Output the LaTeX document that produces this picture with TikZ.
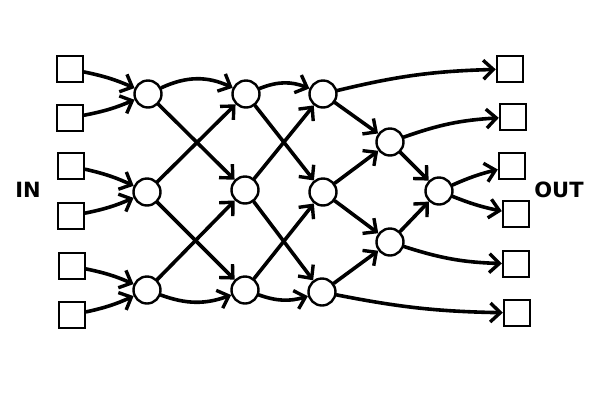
\documentclass[tikz,border=0pt]{standalone}
\usepackage{fontspec}
\setmainfont{Fira Sans}
\newfontfamily\lblfont{DejaVu Sans}
\usetikzlibrary{arrows.meta}
\tikzset{
  box/.style={draw, line width=2.4pt, minimum size=26pt, inner sep=0pt},
  nd/.style={draw, circle, line width=2.4pt, minimum size=27pt, inner sep=0pt},
  conn/.style={line width=3.6pt, line cap=round, -{Straight Barb[length=10pt,width=19pt,line width=3.4pt]}},
  lbl/.style={font=\lblfont\fontsize{21}{21}\selectfont\bfseries}
}
\begin{document}
\begin{tikzpicture}[x=1pt,y=-1pt]
\useasboundingbox (0,0) rectangle (600,400);
% inputs
\node[box] (i1) at (70,69) {};
\node[box] (i2) at (70,118) {};
\node[box] (i3) at (71,166) {};
\node[box] (i4) at (71,216) {};
\node[box] (i5) at (72,266) {};
\node[box] (i6) at (72,315) {};
% outputs
\node[box] (o1) at (510,69) {};
\node[box] (o2) at (513,117) {};
\node[box] (o3) at (512,166) {};
\node[box] (o4) at (516,214) {};
\node[box] (o5) at (516,264) {};
\node[box] (o6) at (517,313) {};
% circles
\node[nd] (a1) at (148,94) {};
\node[nd] (a2) at (147,192) {};
\node[nd] (a3) at (147,290) {};
\node[nd] (b1) at (246,94) {};
\node[nd] (b2) at (245,190) {};
\node[nd] (b3) at (245,290) {};
\node[nd] (c1) at (323,94) {};
\node[nd] (c2) at (323,192) {};
\node[nd] (c3) at (322,292) {};
\node[nd] (d1) at (390,142) {};
\node[nd] (d2) at (390,242) {};
\node[nd] (e1) at (439,191) {};
% labels
\node[lbl] (in) at (28,190) {IN};
\node[lbl] (out) at (559,190) {OUT};
% inputs to col 1
\draw[conn] (i1) to[bend left=6] (a1);
\draw[conn] (i2) to[bend right=6] (a1);
\draw[conn] (i3) to[bend left=6] (a2);
\draw[conn] (i4) to[bend right=6] (a2);
\draw[conn] (i5) to[bend left=6] (a3);
\draw[conn] (i6) to[bend right=6] (a3);
% col1 -> col2
\draw[conn] (a1) to[bend left=25] (b1);
\draw[conn] (a1) -- (b2);
\draw[conn] (a2) -- (b1);
\draw[conn] (a2) -- (b3);
\draw[conn] (a3) -- (b2);
\draw[conn] (a3) to[bend right=20] (b3);
% col2 -> col3
\draw[conn] (b1) to[bend left=22] (c1);
\draw[conn] (b1) -- (c2);
\draw[conn] (b2) -- (c1);
\draw[conn] (b2) -- (c3);
\draw[conn] (b3) -- (c2);
\draw[conn] (b3) to[bend right=18] (c3);
% col3 -> col4 / out
\draw[conn] (c1) to[bend left=6] (o1);
\draw[conn] (c1) -- (d1);
\draw[conn] (c2) -- (d1);
\draw[conn] (c2) -- (d2);
\draw[conn] (c3) -- (d2);
\draw[conn] (c3) to[bend right=5] (o6);
% col4
\draw[conn] (d1) to[bend left=8] (o2);
\draw[conn] (d1) -- (e1);
\draw[conn] (d2) -- (e1);
\draw[conn] (d2) to[bend right=8] (o5);
% col5
\draw[conn] (e1) to[bend left=5] (o3);
\draw[conn] (e1) to[bend right=5] (o4);
\end{tikzpicture}
\end{document}
